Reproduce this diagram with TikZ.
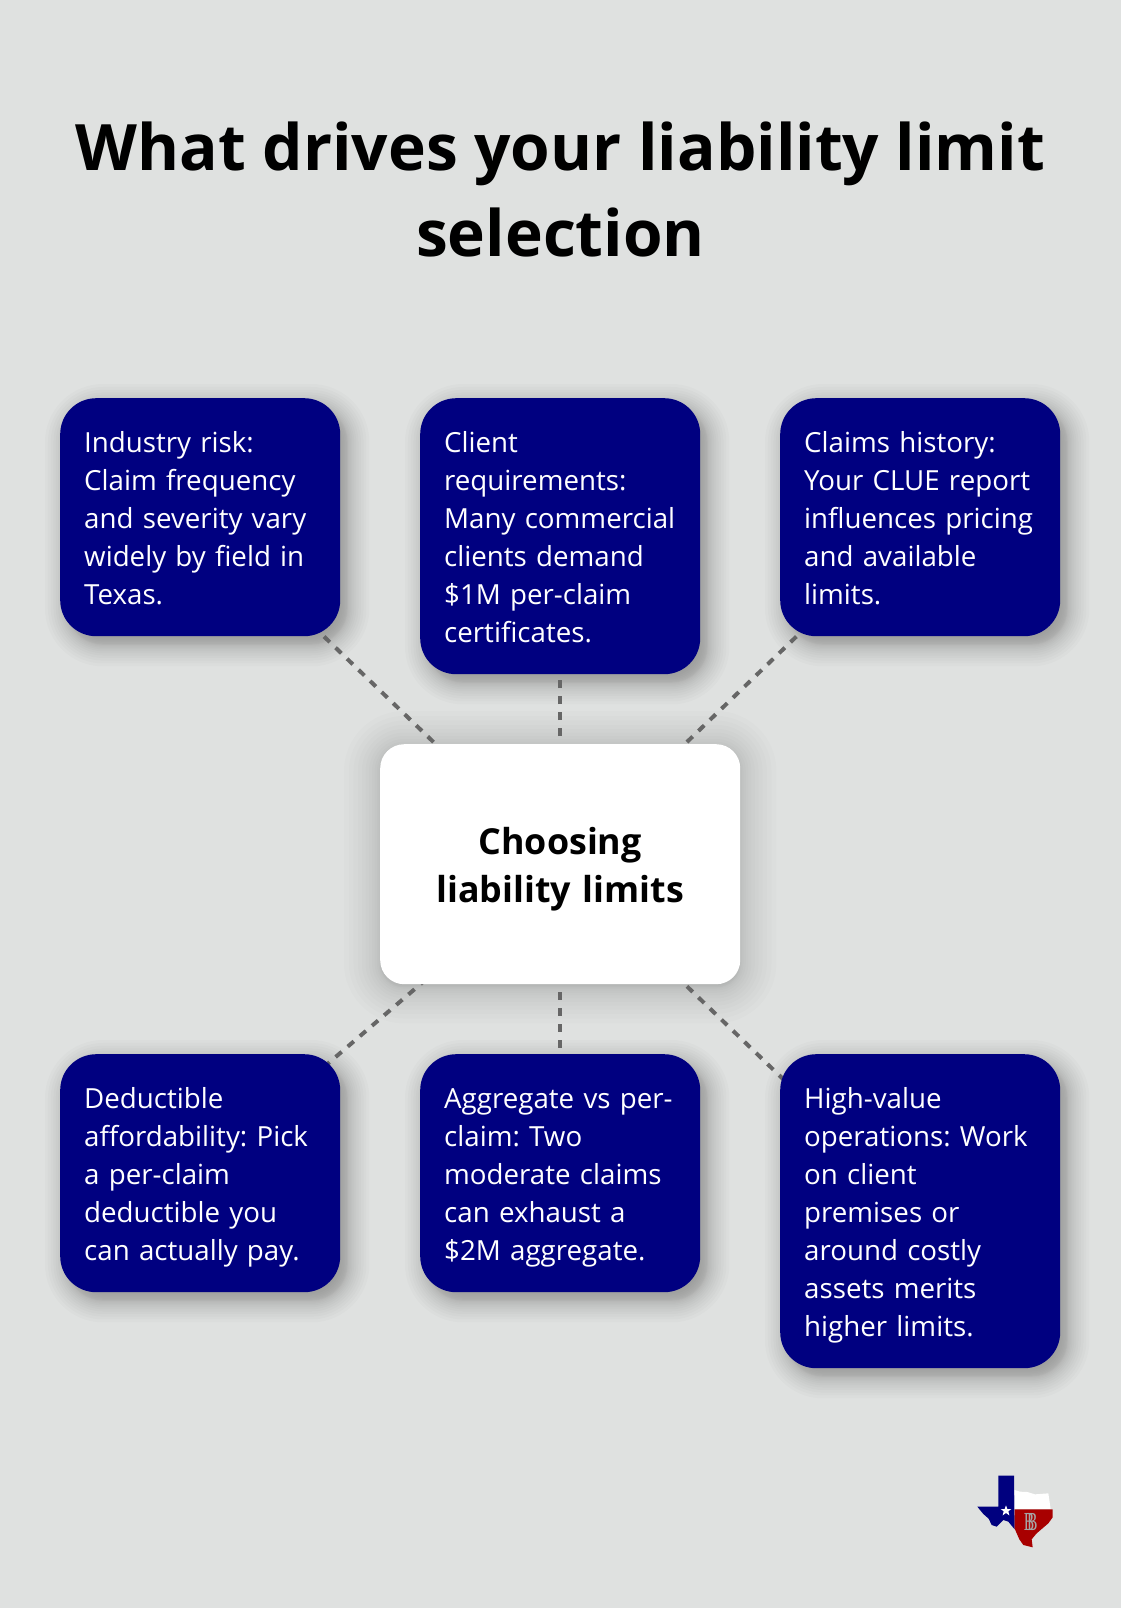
\documentclass[tikz,border=0pt]{standalone}
\usepackage{fontspec}
\setmainfont{Open Sans}
\newfontfamily\logofont{Liberation Serif}
\definecolor{pagebg}{HTML}{DFE1E0}
\definecolor{navybox}{HTML}{000080}
\definecolor{connc}{HTML}{666666}
\definecolor{logoblue}{HTML}{00007F}
\definecolor{logored}{HTML}{A80000}
\pgfdeclarelayer{background}
\pgfdeclarelayer{shadowlayer}
\pgfdeclarelayer{linelayer}
\pgfsetlayers{background,shadowlayer,linelayer,main}
\tikzset{
  card/.style={anchor=north west,fill=navybox,text=white,rounded corners=36,inner sep=0pt,
    minimum width=280,text width=232,align=left,
    execute at begin node={\frenchspacing\rule{0pt}{34.6pt}},
    font=\fontsize{27.7}{38}\selectfont},
  hub/.style={anchor=north west,fill=white,text=black,rounded corners=24,inner sep=0pt,
    minimum width=360,minimum height=240,text width=320,align=center,
    execute at begin node={\rule{0pt}{37pt}},
    font=\fontsize{35.8}{48}\selectfont\bfseries},
  titletext/.style={align=center,text=black,inner sep=0pt,
    font=\fontsize{64}{86}\selectfont\bfseries},
  conn/.style={draw=connc,line width=4,dash pattern=on 8 off 8}
}
\newcommand{\softshadow}[6]{% node, radius, dx, dy, blur, layer opacity
  \begin{pgfonlayer}{shadowlayer}
  \foreach \k in {0,...,23}{
    \pgfmathsetmacro{\uu}{1-\k/11.5}
    \pgfmathsetmacro{\sp}{#5*(\uu<0?-1:1)*abs(\uu)^1.6}
    \pgfmathsetmacro{\rr}{max(#2+\sp,1)}
    \fill[black,opacity=#6,rounded corners=\rr]
      ([xshift=#3-\sp,yshift=-#4+\sp]#1.north west) rectangle
      ([xshift=#3+\sp,yshift=-#4-\sp]#1.south east);
  }
  \end{pgfonlayer}
}
\begin{document}
\begin{tikzpicture}[x=1pt,y=-1pt,line join=round]
\useasboundingbox (0,0) rectangle (1120,1608);
\begin{pgfonlayer}{background}
\fill[pagebg] (-3,-3) rectangle (1123,1611);
\end{pgfonlayer}

\node[titletext] (title) at (560.5,189) {What drives your liability limit\\selection};

\node[card,minimum height=238] (b1) at (60,398) {\strut Industry risk:\\\strut Claim frequency\\\strut and severity vary\\\strut widely by field in\\\strut Texas.};
\node[card,minimum height=276] (b2) at (420,398) {\strut Client\\\strut requirements:\\\strut Many commercial\\\strut clients demand\\\strut \$1M per-claim\\\strut certificates.};
\node[card,minimum height=238] (b3) at (780,398) {\strut Claims history:\\\strut Your CLUE report\\\strut influences pricing\\\strut and available\\\strut limits.};
\node[hub] (c) at (380,744) {Choosing\\liability limits};
\node[card,minimum height=238] (b4) at (60,1054) {\strut Deductible\\\strut affordability: Pick\\\strut a per-claim\\\strut deductible you\\\strut can actually pay.};
\node[card,minimum height=238] (b5) at (420,1054) {\strut Aggregate vs per-\\\strut claim: Two\\\strut moderate claims\\\strut can exhaust a\\\strut \$2M aggregate.};
\node[card,minimum height=314] (b6) at (780,1054) {\strut High-value\\\strut operations: Work\\\strut on client\\\strut premises or\\\strut around costly\\\strut assets merits\\\strut higher limits.};

\softshadow{b1}{36}{7}{8}{22}{0.016}
\softshadow{b2}{36}{7}{8}{22}{0.016}
\softshadow{b3}{36}{7}{8}{22}{0.016}
\softshadow{b4}{36}{7}{8}{22}{0.016}
\softshadow{b5}{36}{7}{8}{22}{0.016}
\softshadow{b6}{36}{7}{8}{22}{0.016}
\softshadow{c}{24}{0}{3}{36}{0.012}

\begin{pgfonlayer}{linelayer}
\draw[conn] (c.center) -- (b1.center);
\draw[conn] (c.center) -- (b2.center);
\draw[conn] (c.center) -- (b3.center);
\draw[conn] (c.center) -- (b4.center);
\draw[conn] (c.center) -- (b5.center);
\draw[conn] (c.center) -- (b6.center);
\end{pgfonlayer}

% Texas logo
\begin{scope}[shift={(940,1440)},x=0.3333pt,y=-0.3333pt]
\fill[logoblue] (175,107) -- (222,107) -- (224,268) -- (205,245) -- (190,240) -- (170,260) -- (155,255) -- (146,236) -- (130,222) -- (112,200) -- (175,200) -- cycle;
\fill[white] (224,150) -- (240,155) -- (262,156) -- (285,163) -- (325,160) -- (332,207) -- (224,207) -- cycle;
\fill[logored] (224,208) -- (338,208) -- (338,232) -- (325,250) -- (290,280) -- (275,298) -- (278,322) -- (250,315) -- (238,298) -- (224,266) -- cycle;
\fill[white] (198,196) -- (202,207) -- (214,207) -- (205,214) -- (208,226) -- (198,219) -- (188,226) -- (191,214) -- (182,207) -- (194,207) -- cycle;
\node[text=gray!70!white,inner sep=0pt,xscale=0.6,font=\logofont\fontsize{26}{26}\selectfont] (logob) at (272,246) {B\kern-12pt B};
\end{scope}
\end{tikzpicture}
\end{document}
